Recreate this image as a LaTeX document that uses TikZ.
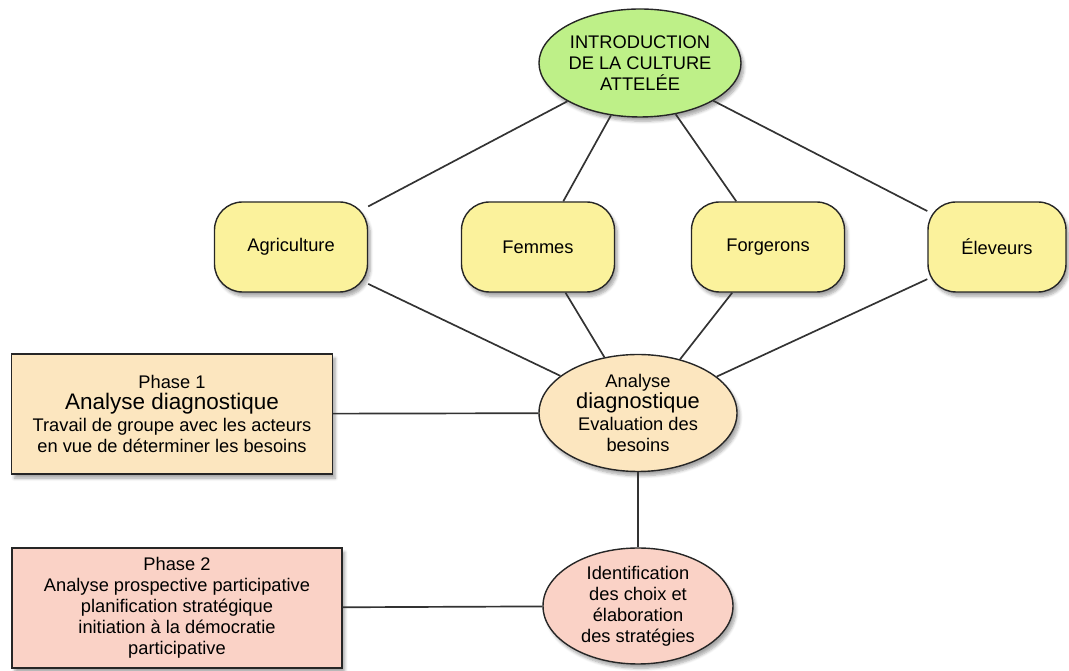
\documentclass[tikz,border=0pt]{standalone}
\usepackage{fontspec}
\setmainfont{Liberation Sans}
\usetikzlibrary{shapes.geometric,shadows.blur}
\definecolor{Leaf}{HTML}{BEF088}
\definecolor{Straw}{HTML}{FBF29C}
\definecolor{Peach}{HTML}{FCE6BF}
\definecolor{Blush}{HTML}{FAD2C6}
\definecolor{Ink}{HTML}{333333}

\begin{document}
\begin{tikzpicture}[base/.style={draw=black!85,line width=1pt,align=center,
      font=\fontsize{13}{15}\selectfont,
      blur shadow={shadow xshift=2pt,shadow yshift=-3pt,shadow blur steps=6,shadow opacity=35}},
    oval/.style={base,ellipse,inner sep=0pt},
    group/.style={base,fill=Straw,rounded corners=0.7cm,minimum width=3.825cm,minimum height=2.25cm},
    phase/.style={base,minimum height=3cm,inner sep=2pt},
    link/.style={Ink,line width=1.2pt}]
    \useasboundingbox (0,0) rectangle (26.725,16.775);
    \node[oval,fill=Leaf,minimum width=4.875cm,minimum height=2.7cm] (intro) at (16,15.2)
      {INTRODUCTION\\DE LA CULTURE\\ATTELÉE};
    \node[group] (agri) at (7.275,10.6) {Agriculture};
    \node[group] (fem) at (13.45,10.6) {Femmes};
    \node[group] (forg) at (19.2,10.6) {Forgerons};
    \node[group,minimum width=3.45cm] (elev) at (24.925,10.6) {Éleveurs};
    \node[oval,fill=Peach,minimum width=4.95cm,minimum height=2.925cm] (diag) at (15.95,6.45)
      {Analyse\\{\fontsize{15.5}{15}\selectfont diagnostique}\\Evaluation des\\besoins};
    \node[phase,fill=Peach,minimum width=8.025cm] (ph1) at (4.3,6.425)
      {Phase 1\\{\fontsize{16}{16}\selectfont Analyse diagnostique}\\Travail de groupe avec les acteurs\\en vue de déterminer les besoins};
    \node[oval,fill=Blush,minimum width=4.75cm,minimum height=2.9cm] (ident) at (15.95,1.625)
      {Identification\\des choix et\\élaboration\\des stratégies};
    \node[phase,fill=Blush,minimum width=8.25cm] (ph2) at (4.425,1.575)
      {Phase 2\\Analyse prospective participative\\planification stratégique\\initiation à la démocratie\\participative};
    \foreach \u in {agri,fem,forg,elev}{
      \draw[link] (intro)--(\u);
      \draw[link] (\u)--(diag);}
    \draw[link] (ph1)--(diag);
    \draw[link] (diag)--(ident);
    \draw[link] (ph2)--(ident);
  \end{tikzpicture}
\end{document}
